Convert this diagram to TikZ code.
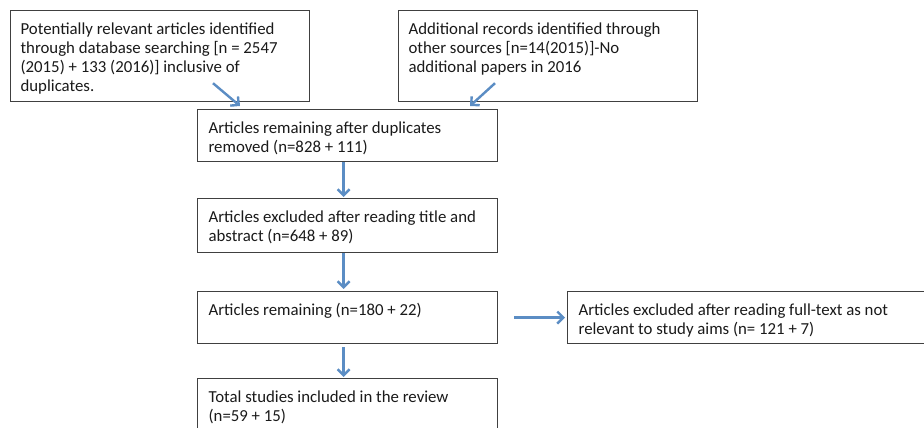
\documentclass[tikz,border=0pt]{standalone}
\usepackage{fontspec}
\setmainfont{Carlito}
\usetikzlibrary{arrows.meta}
\definecolor{boxgray}{HTML}{404040}
\definecolor{txt}{HTML}{1A1A1A}
\definecolor{arrowblue}{HTML}{5B8DC4}
\newcommand{\bxt}[3]{\parbox[c][#2][t]{#1}{\raggedright\rule{0pt}{23.5pt}#3}}
\tikzset{
  flowbox/.style={draw=boxgray, line width=1.2pt, inner sep=0pt, anchor=north west,
    text=txt, font=\fontsize{16.8}{19}\selectfont},
  flowarrow/.style={draw=arrowblue, line width=2.4pt,
    -{Straight Barb[length=6pt,width=12pt,line width=2.4pt]}}
}
\begin{document}
\begin{tikzpicture}[x=1pt,y=1pt]
\clip (0,0) rectangle (924,428);
\fill[white] (0,0) rectangle (924,428);
\node[flowbox, minimum width=299pt, minimum height=91pt] (b1) at (10,418)
  {\bxt{279pt}{91pt}{Potentially relevant articles identified\\ through database searching [n = 2547\\ (2015) + 133 (2016)] inclusive of\\ duplicates.}};
\node[flowbox, minimum width=299pt, minimum height=91pt] (b2) at (398,418)
  {\bxt{279pt}{91pt}{Additional records identified through\\ other sources [n=14(2015)]-No\\ additional papers in 2016}};
\node[flowbox, minimum width=300pt, minimum height=52pt] (b3) at (197,319)
  {\bxt{278pt}{52pt}{Articles remaining after duplicates\\ removed (n=828 + 111)}};
\node[flowbox, minimum width=300pt, minimum height=54pt] (b4) at (197,230)
  {\bxt{278pt}{54pt}{Articles excluded after reading title and\\ abstract (n=648 + 89)}};
\node[flowbox, minimum width=300pt, minimum height=52pt] (b5) at (197,137)
  {\bxt{278pt}{52pt}{Articles remaining (n=180 + 22)}};
\node[flowbox, minimum width=300pt, minimum height=70pt] (b6) at (197,50)
  {\bxt{278pt}{70pt}{Total studies included in the review\\ (n=59 + 15)}};
\node[flowbox, minimum width=370pt, minimum height=52pt] (b7) at (567,137)
  {\bxt{348pt}{52pt}{Articles excluded after reading full-text as not\\ relevant to study aims (n= 121 + 7)}};
\draw[flowarrow] ([shift={(203pt,19pt)}]b1.south west) -- ([shift={(43pt,3pt)}]b3.north west);
\draw[flowarrow] ([shift={(97pt,19pt)}]b2.south west) -- ([shift={(273pt,3pt)}]b3.north west);
\draw[flowarrow, shorten >=1pt] ([xshift=-4pt]b3.south) -- ([xshift=-4pt]b4.north);
\draw[flowarrow, shorten >=2pt] ([xshift=-4pt]b4.south) -- ([xshift=-4pt]b5.north);
\draw[flowarrow, shorten <=3pt, shorten >=1pt] ([xshift=-4pt]b5.south) -- ([xshift=-4pt]b6.north);
\draw[flowarrow, shorten <=16pt, shorten >=2pt] (b5.east) -- (b7.west);
\end{tikzpicture}
\end{document}
